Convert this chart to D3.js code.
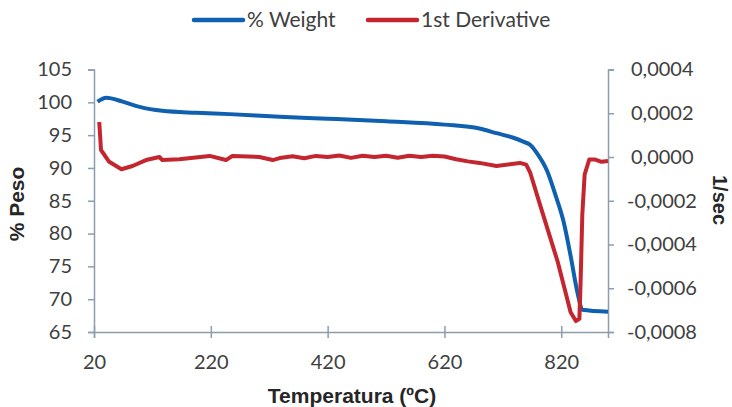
<!DOCTYPE html>
<html>
<head>
<meta charset="utf-8">
<script src="https://cdn.jsdelivr.net/npm/d3@7"></script>
<style>
  body { margin: 0; background: #fff; }
  .tick text { font-family: Lato, sans-serif; font-size: 20px; fill: #404040; }
  .axisTitle { font-family: "Liberation Sans", Arial, sans-serif; font-weight: bold; font-size: 21px; fill: #262626; }
  .legendText { font-family: Lato, sans-serif; font-size: 21px; fill: #404040; }
</style>
</head>
<body>
<svg id="chart" width="732" height="407"></svg>
<script>
// % Weight (left axis)
const weightTemp = [26, 41, 69, 98, 137, 195, 252, 338, 420, 520, 620, 680, 709, 738, 755, 767, 778, 796, 810, 824, 836, 848, 856, 900];
const weightVal = [100.1, 100.7, 100.1, 99.3, 98.7, 98.4, 98.2, 97.8, 97.5, 97.1, 96.6, 96.0, 95.3, 94.6, 94.0, 93.5, 92.3, 89.5, 85.9, 81.8, 76.6, 70.9, 68.4, 68.1];

// 1st Derivative (right axis)
const derivTemp = [29, 32, 46, 67, 86, 109, 132, 137, 166, 218, 246, 257, 303, 326, 338, 360, 380, 400, 420, 440, 460, 480, 500, 520, 540, 560, 580, 600, 620, 640, 660, 680, 709, 749, 760, 767, 785, 814, 836, 845, 851, 853, 856, 860, 868, 877, 889, 900];
const derivVal = [0.00016, 0.000032, -0.000022, -0.000056, -0.000041, -0.000014, 0, -0.000014, -0.00001, 0.000005, -0.000014, 0.000005, 0, -0.000014, -0.000005, 0.000003, -0.000006, 0.000005, 0, 0.000007, -0.000004, 0.000006, 0, 0.000006, -0.000003, 0.000006, 0, 0.000006, 0.000002, -0.00001, -0.00002, -0.000027, -0.000041, -0.000027, -0.000035, -0.000073, -0.00023, -0.00048, -0.00071, -0.00075, -0.00074, -0.00058, -0.000265, -0.00008, -0.000011, -0.000011, -0.000022, -0.000018];

const xTicks = [20, 220, 420, 620, 820];
const leftTicks = [65, 70, 75, 80, 85, 90, 95, 100, 105];
const rightTicks = [-0.0008, -0.0006, -0.0004, -0.0002, 0, 0.0002, 0.0004];

const plotLeft = 94, plotRight = 608, plotTop = 69.5, plotBottom = 332;
const axisColor = '#8c9dab';
const blue = '#1060b0';
const red = '#c3262f';

const svg = d3.select('#chart');

const x = d3.scaleLinear().domain([20, 900]).range([plotLeft, plotRight]);
const yL = d3.scaleLinear().domain([65, 105]).range([plotBottom, plotTop]);
const yR = d3.scaleLinear().domain([-0.0008, 0.0004]).range([plotBottom, plotTop]);

// axes
const gx = svg.append('g')
  .attr('transform', `translate(0, ${plotBottom})`)
  .call(d3.axisBottom(x).tickValues(xTicks).tickSize(6).tickPadding(17).tickFormat(d3.format('d')));
gx.selectAll('.tick line').attr('y1', -6).attr('y2', 6);

const gl = svg.append('g')
  .attr('transform', `translate(${plotLeft}, 0)`)
  .call(d3.axisLeft(yL).tickValues(leftTicks).tickSize(6).tickPadding(16).tickFormat(d3.format('d')));

const gr = svg.append('g')
  .attr('transform', `translate(${plotRight}, 0)`)
  .call(d3.axisRight(yR).tickValues(rightTicks).tickSize(6).tickPadding(17)
    .tickFormat(d => d.toFixed(4).replace('.', ',').replace('-0,0000', '0,0000')));
gr.selectAll('.tick text').attr('dx', d => d < 0 ? -4 : 0);

[gx, gl, gr].forEach(g => {
  g.select('.domain').attr('stroke', axisColor).attr('stroke-width', 1.5);
  g.selectAll('.tick line').attr('stroke', axisColor).attr('stroke-width', 1.5);
});

// lines
const weightData = weightTemp.map((t, i) => ({t, v: weightVal[i]}));
const derivData = derivTemp.map((t, i) => ({t, v: derivVal[i]}));

svg.append('path')
  .datum(weightData)
  .attr('fill', 'none')
  .attr('stroke', blue)
  .attr('stroke-width', 4)
  .attr('stroke-linejoin', 'round')
  .attr('d', d3.line().x(d => x(d.t)).y(d => yL(d.v)).curve(d3.curveMonotoneX));

svg.append('path')
  .datum(derivData)
  .attr('fill', 'none')
  .attr('stroke', red)
  .attr('stroke-width', 4)
  .attr('stroke-linejoin', 'round')
  .attr('d', d3.line().x(d => x(d.t)).y(d => yR(d.v)));

// axis titles
svg.append('text')
  .attr('class', 'axisTitle')
  .attr('text-anchor', 'middle')
  .attr('transform', 'translate(24, 204) rotate(-90)')
  .text('% Peso');

svg.append('text')
  .attr('class', 'axisTitle')
  .attr('text-anchor', 'middle')
  .style('font-size', '20px')
  .attr('transform', 'translate(713, 200) rotate(90)')
  .text('1/sec');

svg.append('text')
  .attr('class', 'axisTitle')
  .attr('text-anchor', 'middle')
  .attr('x', 352)
  .attr('y', 403)
  .text('Temperatura (ºC)');

// legend
const legendItems = [
  {label: '% Weight', color: blue, x: 194},
  {label: '1st Derivative', color: red, x: 368}
];
const legend = svg.append('g');
legendItems.forEach(item => {
  legend.append('line')
    .attr('x1', item.x).attr('x2', item.x + 49)
    .attr('y1', 20).attr('y2', 20)
    .attr('stroke', item.color)
    .attr('stroke-width', 4.5)
    .attr('stroke-linecap', 'round');
  legend.append('text')
    .attr('class', 'legendText')
    .attr('x', item.x + 53)
    .attr('y', 27)
    .text(item.label);
});
</script>
</body>
</html>
